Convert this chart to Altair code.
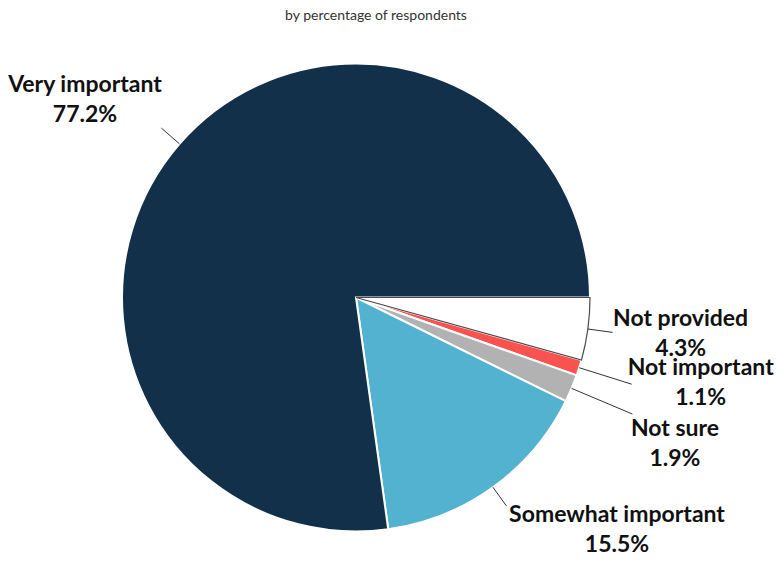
import math
import altair as alt
import pandas as pd

# ---- data (clockwise from 3 o'clock) ----
categories = ["Not provided", "Not important", "Not sure", "Somewhat important", "Very important"]
values = [4.3, 1.1, 1.9, 15.5, 77.2]
colors = ["#FFFFFF", "#F9524F", "#B2B2B2", "#52B2D0", "#13304A"]

# ---- layout (pixels) ----
R = 234
leader_len = [25, 55, 66, 23, 24]
label_dx = [68, 69, 42.5, 110.6, -76.4]
label_dy = [-13, -16, 15, 9, -43]
W, H = 766, 517
cx, cy = 348, 259.5

total = sum(values)
rows = []
cum = 0.0
for i, (c, v) in enumerate(zip(categories, values)):
    mid = (cum + v / 2) / total * 2 * math.pi
    cum += v
    ca, sa = math.cos(mid), math.sin(mid)
    x1, y1 = R * ca, R * sa
    x2, y2 = (R + leader_len[i]) * ca, (R + leader_len[i]) * sa
    rows.append(dict(idx=i, category=c, value=v, label=f"{c}\n{v:.1f}%",
                     x1=x1, y1=y1, x2=x2, y2=y2,
                     lx=x2 + label_dx[i], ly=y2 + label_dy[i]))
df = pd.DataFrame(rows)

xs = alt.Scale(domain=[-cx, W - cx], nice=False, zero=False)
ys = alt.Scale(domain=[-cy, H - cy], nice=False, zero=False, reverse=True)

base = alt.Chart(df)
theta = alt.Theta("value:Q", stack=True,
                  scale=alt.Scale(range=[math.pi / 2, math.pi / 2 + 2 * math.pi]))
cx_enc = alt.XDatum(0, type="quantitative", scale=xs, axis=None)
cy_enc = alt.YDatum(0, type="quantitative", scale=ys, axis=None)

arcs = base.mark_arc(radius=R, stroke="white", strokeWidth=2).encode(
    theta=theta,
    order=alt.Order("idx:Q"),
    color=alt.Color("category:N", scale=alt.Scale(domain=categories, range=colors), legend=None),
    x=cx_enc,
    y=cy_enc,
)

outline = base.mark_arc(radius=R, fillOpacity=0, stroke="#4a4a4a", strokeWidth=1.2).encode(
    theta=theta,
    order=alt.Order("idx:Q"),
    strokeOpacity=alt.condition(alt.datum.category == "Not provided", alt.value(1), alt.value(0)),
    x=cx_enc,
    y=cy_enc,
)

rules = base.mark_rule(color="#333333", strokeWidth=1).encode(
    x=alt.X("x1:Q", scale=xs, axis=None),
    y=alt.Y("y1:Q", scale=ys, axis=None),
    x2="x2:Q",
    y2="y2:Q",
)

texts = base.mark_text(font="Lato", fontWeight="bold", fontSize=23, lineBreak="\n",
                       lineHeight=30, color="#111111", align="center", baseline="middle").encode(
    x=alt.X("lx:Q", scale=xs, axis=None),
    y=alt.Y("ly:Q", scale=ys, axis=None),
    text="label:N",
)

chart = alt.layer(arcs, outline, rules, texts).properties(
    width=W,
    height=H,
    title=alt.Title("by percentage of respondents", font="Lato", fontSize=14,
                    fontWeight="normal", color="#333333", anchor="middle", offset=15, dx=-15),
    padding={"left": 0, "top": 30, "right": 0, "bottom": 0},
    autosize=alt.AutoSizeParams(type="none"),
).configure_view(stroke="transparent")

chart.save("out.html", embed_options={"renderer": "svg", "actions": False})
